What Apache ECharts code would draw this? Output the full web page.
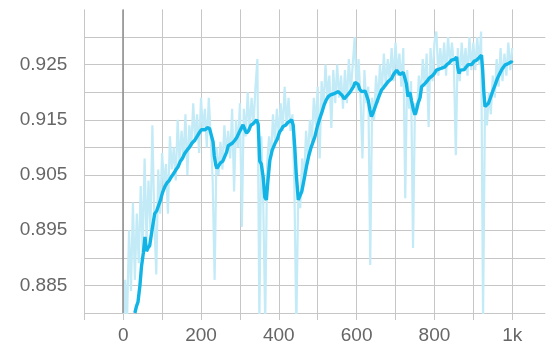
<!DOCTYPE html>
<html>
<head>
<meta charset="utf-8">
<script src="https://cdn.jsdelivr.net/npm/echarts@6/dist/echarts.min.js"></script>
<style>
  html, body { margin: 0; padding: 0; background: #fff; }
  #chart { width: 548px; height: 351px; }
</style>
</head>
<body>
<div id="chart"></div>
<script>
// raw values, one every 5 steps from 0 to 1000
const rawValues = [
  0.872, 0.886, 0.879, 0.895, 0.884, 0.900, 0.886, 0.898, 0.889, 0.903,
  0.891, 0.908, 0.893, 0.904, 0.895, 0.914, 0.897, 0.887, 0.906, 0.898,
  0.909, 0.903, 0.907, 0.898, 0.912, 0.906, 0.910, 0.904, 0.915, 0.907,
  0.913, 0.908, 0.916, 0.905, 0.914, 0.910, 0.918, 0.911, 0.916, 0.909,
  0.919, 0.913, 0.917, 0.910, 0.919, 0.912, 0.904, 0.886, 0.910, 0.905,
  0.911, 0.906, 0.914, 0.909, 0.913, 0.908, 0.917, 0.902, 0.915, 0.910,
  0.918, 0.8956, 0.917, 0.912, 0.920, 0.913, 0.919, 0.914, 0.921, 0.926,
  0.878, 0.912, 0.900, 0.878, 0.907, 0.912, 0.908, 0.916, 0.911, 0.917,
  0.912, 0.918, 0.913, 0.921, 0.914, 0.919, 0.913, 0.916, 0.903, 0.877,
  0.902, 0.899, 0.908, 0.904, 0.913, 0.908, 0.915, 0.911, 0.919, 0.914,
  0.921, 0.908, 0.922, 0.917, 0.925, 0.919, 0.923, 0.9135, 0.924, 0.918,
  0.925, 0.919, 0.923, 0.917, 0.924, 0.918, 0.926, 0.920, 0.925, 0.930,
  0.920, 0.926, 0.919, 0.908, 0.924, 0.918, 0.921, 0.8887, 0.919, 0.915,
  0.923, 0.918, 0.925, 0.920, 0.927, 0.921, 0.926, 0.922, 0.928, 0.922,
  0.929, 0.923, 0.927, 0.921, 0.928, 0.9008, 0.924, 0.917, 0.922, 0.8918,
  0.918, 0.916, 0.923, 0.919, 0.926, 0.921, 0.927, 0.9137, 0.928, 0.922,
  0.929, 0.931, 0.923, 0.928, 0.924, 0.929, 0.923, 0.930, 0.925, 0.929,
  0.925, 0.9086, 0.928, 0.922, 0.929, 0.924, 0.928, 0.923, 0.930, 0.924,
  0.929, 0.924, 0.930, 0.925, 0.931, 0.879, 0.918, 0.914, 0.920, 0.916,
  0.923, 0.919, 0.926, 0.921, 0.928, 0.922, 0.927, 0.923, 0.929, 0.924,
  0.928
];

// smoothed curve
const smoothSteps = [
  30, 34, 38, 43, 47, 52, 56, 60, 64, 68, 74, 81, 86, 90, 96, 101, 107, 113, 118, 124,
  130, 136, 141, 147, 152, 158, 164, 170, 177, 184, 190, 196, 201, 206, 211, 216, 222, 227, 231, 234,
  238, 241, 245, 250, 256, 261, 266, 270, 275, 281, 287, 292, 298, 303, 308, 313, 317, 322, 328, 334,
  339, 343, 347, 351, 355, 360, 364, 368, 372, 377, 383, 390, 396, 402, 407, 411, 417, 423, 428, 433,
  437, 441, 445, 450, 454, 459, 465, 471, 477, 483, 488, 493, 499, 505, 510, 516, 522, 527, 533, 538,
  544, 549, 553, 558, 563, 568, 572, 577, 583, 587, 592, 596, 600, 604, 608, 613, 618, 622, 626, 630,
  634, 638, 642, 647, 651, 655, 660, 664, 669, 673, 678, 682, 686, 690, 694, 699, 703, 707, 711, 716,
  720, 724, 728, 732, 737, 741, 746, 750, 754, 758, 763, 767, 771, 776, 781, 786, 790, 795, 800, 805,
  810, 816, 821, 827, 832, 838, 844, 849, 853, 857, 860, 863, 867, 872, 877, 882, 887, 891, 896, 902,
  908, 914, 918, 921, 924, 927, 930, 934, 939, 944, 951, 957, 962, 968, 974, 981, 986, 990, 994, 998,
  1000
];
const smoothValues = [
  0.8800, 0.8812, 0.8820, 0.8850, 0.8884, 0.8910, 0.8938, 0.8912, 0.8918, 0.8922,
  0.8950, 0.8980, 0.8985, 0.8993, 0.9005, 0.9018, 0.9029, 0.9036, 0.9040, 0.9047,
  0.9053, 0.9060, 0.9065, 0.9075, 0.9080, 0.9089, 0.9095, 0.9100, 0.9108, 0.9113,
  0.9120, 0.9127, 0.9132, 0.9135, 0.9132, 0.9136, 0.9134, 0.9132, 0.9110, 0.9085,
  0.9068, 0.9062, 0.9064, 0.9072, 0.9075, 0.9078, 0.9092, 0.9103, 0.9105, 0.9108,
  0.9113, 0.9118, 0.9127, 0.9134, 0.9141, 0.9132, 0.9126, 0.9130, 0.9140, 0.9143,
  0.9145, 0.9150, 0.9142, 0.9075, 0.9070, 0.9045, 0.9010, 0.9005, 0.9040, 0.9077,
  0.9095, 0.9107, 0.9115, 0.9128, 0.9133, 0.9138, 0.9140, 0.9145, 0.9147, 0.9150,
  0.9140, 0.9100, 0.9050, 0.9005, 0.9002, 0.9020, 0.9042, 0.9065, 0.9085, 0.9100,
  0.9110, 0.9120, 0.9138, 0.9152, 0.9162, 0.9176, 0.9186, 0.9192, 0.9195, 0.9193,
  0.9198, 0.9196, 0.9201, 0.9198, 0.9194, 0.9188, 0.9191, 0.9195, 0.9200, 0.9201,
  0.9210, 0.9218, 0.9219, 0.9214, 0.9205, 0.9201, 0.9200, 0.9202, 0.9201, 0.9185,
  0.9168, 0.9156, 0.9162, 0.9172, 0.9180, 0.9188, 0.9197, 0.9204, 0.9208, 0.9212,
  0.9214, 0.9220, 0.9222, 0.9225, 0.9231, 0.9236, 0.9240, 0.9238, 0.9232, 0.9231,
  0.9236, 0.9233, 0.9215, 0.9192, 0.9200, 0.9185, 0.9168, 0.9159, 0.9168, 0.9180,
  0.9190, 0.9210, 0.9213, 0.9216, 0.9220, 0.9225, 0.9223, 0.9230, 0.9234, 0.9240,
  0.9238, 0.9243, 0.9241, 0.9246, 0.9250, 0.9253, 0.9258, 0.9255, 0.9260, 0.9264,
  0.9245, 0.9234, 0.9240, 0.9243, 0.9241, 0.9246, 0.9250, 0.9252, 0.9250, 0.9256,
  0.9258, 0.9262, 0.9264, 0.9267, 0.9240, 0.9200, 0.9174, 0.9171, 0.9180, 0.9190,
  0.9204, 0.9215, 0.9225, 0.9234, 0.9242, 0.9249, 0.9248, 0.9252, 0.9252, 0.9255,
  0.9253
];

const xTicks = [-100, 0, 100, 200, 300, 400, 500, 600, 700, 800, 900, 1000];
const xLabelValues = [0, 200, 400, 600, 800, 1000];
const yTicks = [0.880, 0.885, 0.890, 0.895, 0.900, 0.905, 0.910, 0.915, 0.920, 0.925, 0.930];
const yLabelValues = [0.885, 0.895, 0.905, 0.915, 0.925];

const rawData = rawValues.map((v, i) => [i * 5, v]);
const smoothData = smoothSteps.map((s, i) => [s, smoothValues[i]]);

const gridColor = '#c6c6c6';
const labelStyle = { color: '#666', fontSize: 19, fontFamily: 'Liberation Sans, Arial, sans-serif' };

const chart = echarts.init(document.getElementById('chart'));
chart.setOption({
  animation: false,
  backgroundColor: '#fff',
  grid: { left: 84.3, right: 2.7, top: 9.4, bottom: 38 },
  xAxis: {
    type: 'value',
    min: -100,
    max: 1085,
    interval: 100,
    axisLine: { show: false },
    axisTick: { show: true, length: 7, customValues: xTicks, lineStyle: { color: gridColor } },
    splitLine: { show: true, lineStyle: { color: gridColor, width: 1 } },
    axisLabel: Object.assign({
      margin: 13,
      customValues: xLabelValues,
      formatter: v => (v === 1000 ? '1k' : String(v))
    }, labelStyle)
  },
  yAxis: {
    type: 'value',
    min: 0.880,
    max: 0.935,
    interval: 0.005,
    axisLine: { show: false },
    axisTick: { show: true, length: 7, customValues: yTicks, lineStyle: { color: gridColor } },
    splitLine: { show: true, lineStyle: { color: gridColor, width: 1 } },
    axisLabel: Object.assign({
      margin: 17,
      customValues: yLabelValues,
      formatter: v => v.toFixed(3)
    }, labelStyle)
  },
  series: [
    {
      name: 'raw',
      type: 'line',
      data: rawData,
      showSymbol: false,
      clip: true,
      lineStyle: { color: '#c2ebf7', width: 2.2 },
      z: 2,
      markLine: {
        silent: true,
        symbol: ['none', 'none'],
        label: { show: false },
        lineStyle: { color: '#8c8c8c', width: 1.5, type: 'solid' },
        data: [{ xAxis: 0 }]
      }
    },
    {
      name: 'smoothed',
      type: 'line',
      data: smoothData,
      showSymbol: false,
      clip: true,
      lineStyle: { color: '#12b4e6', width: 3.4 },
      z: 3
    }
  ]
});
</script>
</body>
</html>
